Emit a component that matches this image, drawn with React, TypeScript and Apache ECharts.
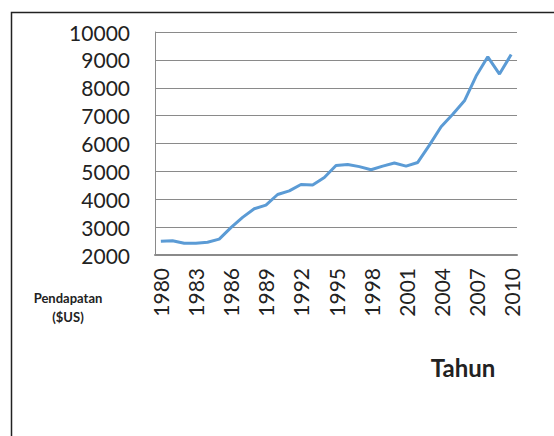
import React, { useEffect, useRef } from "react";
import * as echarts from "echarts";

const years: string[] = [];
for (let y = 1980; y <= 2010; y++) years.push(String(y));

const income = [
  2490, 2510, 2420, 2420, 2460, 2570, 2980, 3350, 3660, 3790,
  4170, 4300, 4530, 4510, 4780, 5210, 5250, 5170, 5060, 5190,
  5300, 5190, 5320, 5940, 6600, 7050, 7530, 8420, 9110, 8490,
  9190,
];

const yMin = 2000;
const yMax = 10000;
const yStep = 1000;

const yTitle = ["Pendapatan", "($US)"];
const xTitle = "Tahun";

const FONT = "Lato, 'Noto Sans', sans-serif";

export default function App() {
  const ref = useRef<HTMLDivElement>(null);
  useEffect(() => {
    if (!ref.current) return;
    const chart = echarts.init(ref.current, undefined, { renderer: "svg" });
    chart.setOption({
      animation: false,
      backgroundColor: "#ffffff",
      grid: { left: 155, right: 37, top: 32, bottom: 181 },
      xAxis: {
        type: "category",
        data: years,
        boundaryGap: true,
        axisLine: { show: true, lineStyle: { color: "#8a8a8a", width: 2 } },
        axisTick: { show: false },
        axisLabel: {
          interval: 2,
          rotate: 90,
          margin: 13,
          fontSize: 21,
          color: "#222",
          fontFamily: FONT,
        },
        splitLine: { show: false },
      },
      yAxis: {
        type: "value",
        min: yMin,
        max: yMax,
        interval: yStep,
        axisLine: { show: true, lineStyle: { color: "#8a8a8a", width: 1 } },
        axisTick: { show: false },
        axisLabel: {
          margin: 25,
          fontSize: 21,
          color: "#222",
          fontFamily: FONT,
          formatter: (v: number) => String(v),
        },
        splitLine: { show: true, lineStyle: { color: "#8a8a8a", width: 1 } },
      },
      series: [
        {
          type: "line",
          data: income,
          symbol: "none",
          lineStyle: { color: "#5B9BD5", width: 3 },
        },
      ],
      graphic: [
        {
          type: "rect",
          shape: { x: 11.5, y: 12.5, width: 700, height: 600 },
          style: { fill: "none", stroke: "#222", lineWidth: 1.5 },
          silent: true,
        },
        {
          type: "text",
          x: 68,
          y: 298,
          style: {
            text: yTitle[0],
            font: `bold 13px ${FONT}`,
            fill: "#222",
            textAlign: "center",
            textVerticalAlign: "middle",
          },
        },
        {
          type: "text",
          x: 68,
          y: 317,
          style: {
            text: yTitle[1],
            font: `bold 13px ${FONT}`,
            fill: "#222",
            textAlign: "center",
            textVerticalAlign: "middle",
          },
        },
        {
          type: "text",
          x: 463,
          y: 367,
          style: {
            text: xTitle,
            font: `bold 24px ${FONT}`,
            fill: "#222",
            textAlign: "center",
            textVerticalAlign: "middle",
          },
        },
      ],
    });
    return () => chart.dispose();
  }, []);
  return (
    <div
      ref={ref}
      style={{ position: "absolute", left: 0, top: 0, width: 554, height: 436 }}
    />
  );
}
